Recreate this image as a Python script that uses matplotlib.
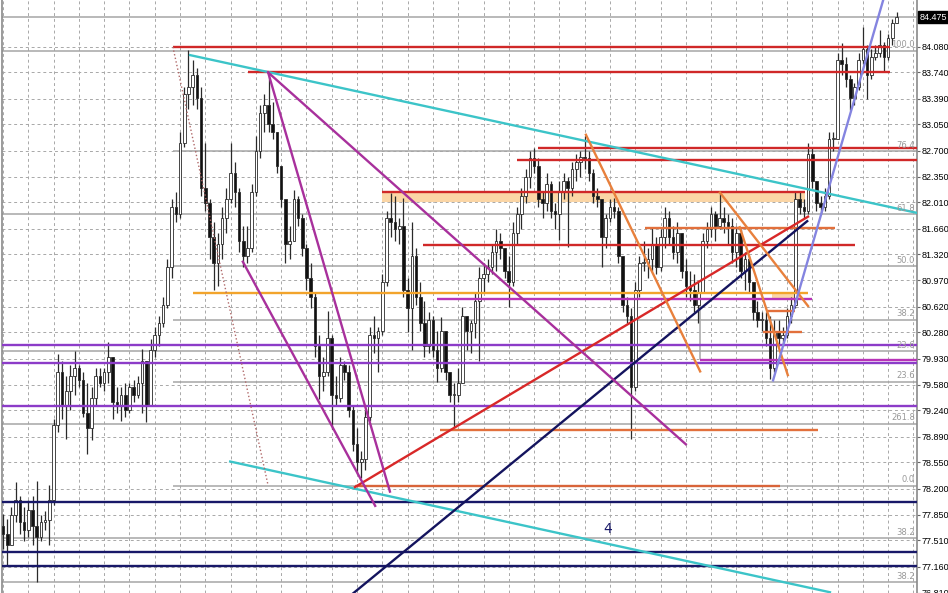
import numpy as np
import matplotlib
matplotlib.use("Agg")
from matplotlib import pyplot as plt
from matplotlib import transforms

# bar data (one bar per position, open = previous close)
highs = [
    77.86, 77.80, 77.95, 78.29, 78.10, 77.95, 78.05, 78.10, 78.30, 77.85,
    77.90, 78.25, 79.13, 79.99, 79.90, 79.70, 79.85, 80.03, 79.85, 79.75,
    79.60, 79.55, 79.80, 79.80, 79.80, 80.15, 79.95, 79.55, 79.55, 79.60,
    79.60, 79.65, 79.70, 80.06, 79.90, 80.19, 80.35, 80.50, 80.75, 81.25,
    82.05, 82.15, 82.95, 83.55, 84.04, 83.90, 83.80, 83.55, 82.80, 82.05,
    81.75, 81.60, 81.95, 82.20, 82.80, 82.55, 82.20, 81.70, 81.70, 82.25,
    82.90, 83.30, 83.45, 83.74, 83.35, 82.95, 82.50, 82.00, 81.70, 82.18,
    82.10, 81.85, 81.45, 81.20, 80.80, 80.25, 79.95, 80.56, 80.25, 79.70,
    79.95, 79.90, 79.85, 79.30, 79.00, 78.70, 79.25, 80.35, 80.50, 80.35,
    81.05, 81.90, 82.14, 82.10, 81.80, 82.07, 81.00, 81.75, 81.40, 80.95,
    80.70, 80.55, 80.50, 80.30, 80.48, 80.30, 79.75, 79.60, 79.80, 80.62,
    80.50, 80.45, 80.80, 81.15, 81.20, 81.25, 81.45, 81.65, 81.60, 81.40,
    81.30, 81.75, 81.95, 82.20, 82.45, 82.70, 82.74, 82.60, 82.15, 82.40,
    82.30, 82.00, 82.30, 82.40, 82.35, 82.55, 82.65, 82.70, 82.90, 82.70,
    82.45, 82.20, 82.05, 81.85, 82.05, 82.07, 81.95, 81.30, 80.75, 80.60,
    80.95, 81.30, 81.50, 81.40, 81.67, 81.55, 81.65, 81.95, 81.90, 81.70,
    81.75, 81.60, 81.25, 81.10, 81.05, 80.95, 81.60, 81.75, 81.95, 81.90,
    82.14, 81.95, 81.85, 81.80, 81.70, 81.65, 81.35, 81.30, 80.95, 80.70,
    80.55, 80.55, 80.50, 80.45, 80.45, 80.35, 80.60, 80.75, 82.15, 82.15,
    82.05, 82.80, 82.75, 82.30, 82.10, 82.20, 82.95, 82.95, 84.00, 84.13,
    83.95, 83.70, 83.60, 84.00, 84.35, 84.10, 84.05, 84.10, 84.30, 84.15,
    84.25, 84.45, 84.55]

lows = [
    77.40, 77.17, 77.45, 77.75, 77.60, 77.50, 77.55, 77.45, 76.96, 77.50,
    77.65, 77.45, 77.98, 78.95, 79.13, 78.86, 79.25, 79.45, 79.55, 79.15,
    78.66, 78.85, 79.30, 79.55, 79.50, 79.60, 79.13, 79.20, 79.10, 79.15,
    79.20, 79.35, 79.40, 79.20, 79.08, 79.30, 79.95, 80.10, 80.35, 80.60,
    81.00, 81.75, 81.80, 82.75, 83.25, 83.30, 83.25, 82.10, 81.90, 81.25,
    80.85, 80.90, 81.25, 81.60, 82.00, 81.95, 81.35, 81.15, 81.20, 81.35,
    82.10, 82.60, 82.95, 82.95, 82.85, 82.40, 81.95, 81.20, 81.25, 81.50,
    81.70, 81.30, 80.85, 80.60, 79.95, 79.39, 79.50, 79.70, 78.99, 79.30,
    79.35, 79.65, 79.15, 78.70, 78.40, 78.34, 78.45, 79.10, 80.00, 79.75,
    80.25, 80.90, 81.55, 81.50, 81.45, 80.75, 80.28, 80.05, 80.65, 80.30,
    79.95, 80.00, 79.95, 79.62, 79.75, 79.65, 79.35, 79.02, 79.35, 79.60,
    80.05, 80.00, 80.20, 79.90, 80.80, 80.95, 81.05, 81.10, 81.25, 81.00,
    80.62, 80.90, 81.45, 81.65, 82.00, 82.20, 82.40, 81.95, 81.80, 81.90,
    81.80, 81.65, 81.51, 82.05, 81.42, 82.10, 82.30, 82.35, 82.45, 82.30,
    82.00, 81.95, 81.15, 81.40, 81.75, 81.80, 81.20, 80.55, 80.40, 78.86,
    79.50, 80.75, 81.10, 81.00, 81.10, 81.05, 81.10, 81.40, 81.45, 81.25,
    81.20, 81.00, 80.75, 80.70, 80.55, 80.40, 80.80, 81.40, 81.55, 81.50,
    81.65, 81.60, 81.45, 81.20, 81.15, 81.00, 80.85, 80.80, 80.45, 80.35,
    80.30, 80.10, 79.66, 79.75, 80.10, 80.10, 80.20, 80.40, 80.60, 81.85,
    81.80, 81.85, 82.20, 81.90, 81.85, 81.90, 82.05, 82.70, 82.85, 83.70,
    83.55, 83.24, 83.30, 83.50, 83.85, 83.38, 83.65, 83.90, 83.95, 83.74,
    83.90, 84.10, 84.40]

closes = [
    77.60, 77.45, 77.85, 78.05, 77.75, 77.65, 77.92, 77.70, 77.55, 77.75,
    77.78, 78.05, 79.05, 79.75, 79.30, 79.50, 79.70, 79.80, 79.65, 79.20,
    79.00, 79.40, 79.70, 79.60, 79.75, 79.95, 79.35, 79.30, 79.45, 79.25,
    79.55, 79.45, 79.60, 79.90, 79.30, 80.05, 80.25, 80.40, 80.65, 81.15,
    81.95, 81.85, 82.80, 83.45, 83.55, 83.70, 83.40, 82.20, 82.00, 81.55,
    81.20, 81.45, 81.80, 82.05, 82.40, 82.15, 81.50, 81.30, 81.40, 82.15,
    82.70, 83.20, 83.30, 83.05, 82.95, 82.50, 82.05, 81.45, 81.50, 82.05,
    81.80, 81.40, 81.00, 80.75, 80.10, 79.70, 79.75, 80.20, 79.45, 79.40,
    79.85, 79.75, 79.25, 78.80, 78.55, 78.60, 79.15, 80.25, 80.20, 80.30,
    80.95, 81.80, 81.75, 81.65, 81.70, 80.85, 80.60, 81.30, 80.75, 80.40,
    80.10, 80.45, 80.05, 79.80, 80.30, 79.75, 79.45, 79.45, 79.60, 80.50,
    80.30, 80.40, 80.70, 81.00, 81.05, 81.15, 81.35, 81.50, 81.40, 81.10,
    80.95, 81.60, 81.85, 82.10, 82.35, 82.60, 82.50, 82.05, 82.00, 82.25,
    81.90, 81.85, 82.15, 82.30, 82.20, 82.45, 82.55, 82.62, 82.60, 82.40,
    82.10, 82.05, 81.55, 81.80, 81.95, 81.90, 81.30, 80.65, 80.50, 79.55,
    80.85, 81.20, 81.20, 81.25, 81.45, 81.15, 81.55, 81.80, 81.55, 81.35,
    81.60, 81.10, 80.90, 80.85, 80.65, 80.80, 81.50, 81.65, 81.85, 81.70,
    81.80, 81.75, 81.70, 81.35, 81.60, 81.10, 81.25, 80.95, 80.55, 80.45,
    80.45, 80.20, 79.80, 80.30, 80.20, 80.25, 80.50, 80.65, 82.05, 81.95,
    81.90, 82.65, 82.30, 82.00, 81.95, 82.10, 82.85, 82.85, 83.90, 83.85,
    83.65, 83.40, 83.55, 83.90, 84.05, 83.70, 83.95, 84.00, 84.10, 83.95,
    84.20, 84.40, 84.475]
first_open = 77.70

price_ticks = [84.080, 83.740, 83.390, 83.050, 82.700, 82.350, 82.010, 81.660,
               81.320, 80.970, 80.620, 80.280, 79.930, 79.580, 79.240, 78.890,
               78.550, 78.200, 77.850, 77.510, 77.160, 76.810]
last_price = 84.475

# horizontal levels: (price, start bar, end bar or None = to the edge, colour)
levels = [
    (84.08, 40.3, 210.4, "#d02828"),
    (83.74, 58.1, 210.4, "#d02828"),
    (82.74, 126.9, None, "#d02828"),
    (82.57, 121.9, None, "#d02828"),
    (82.15, 89.9, 190.3, "#d02828"),
    (81.44, 99.6, 202.1, "#d02828"),
    (80.81, 45.1, 191.0, "#f2a42c"),
    (81.67, 152.3, 197.4, "#e2703c"),
    (78.98, 103.7, 193.4, "#e2703c"),
    (78.24, 83.5, 184.3, "#d8643a"),
    (80.28, 180.3, 189.6, "#e2703c"),
    (80.56, 181.5, 187.9, "#e2703c"),
    (80.72, 103.0, 191.9, "#b833b8"),
    (79.91, 165.4, None, "#b833b8"),
    (80.11, None, None, "#8c3cc8"),
    (79.87, None, None, "#8c3cc8"),
    (79.30, None, None, "#8c3cc8"),
    (78.02, None, None, "#181868"),
    (77.36, None, None, "#181868"),
    (77.17, None, None, "#181868"),
]
# shaded zones: (low, high, start bar, end bar)
zones = [(82.01, 82.15, 89.9, 190.3), (80.72, 80.81, 182.4, 189.1)]

# fibonacci levels: (price, start bar or None, label)
fib_levels = [
    (84.475, None, ""), (84.03, None, "100.0"), (82.69, 40.3, "76.4"),
    (81.85, None, "61.8"), (81.16, 40.3, "50.0"), (80.45, 40.3, "38.2"),
    (80.03, None, "23.6"), (79.62, 40.3, "23.6"), (79.06, None, "261.8"),
    (78.24, 40.3, "0.0"), (77.54, None, "38.2"), (76.95, None, "38.2"),
]

# trend lines: (bar1, price1, bar2, price2, colour, style)
trends = [
    (44.4, 83.97, 216.85, 81.87, "#3cc4c8", "-"),
    (53.9, 78.56, 196.2, 76.82, "#3cc4c8", "-"),
    (83.5, 78.22, 191.0, 81.82, "#d82828", "-"),
    (82.3, 76.77, 190.8, 81.76, "#14145e", "-"),
    (62.9, 83.74, 162.0, 78.79, "#a8309c", "-"),
    (62.9, 83.74, 91.8, 78.16, "#a8309c", "-"),
    (56.9, 81.22, 88.3, 77.97, "#a8309c", "-"),
    (138.3, 82.91, 165.4, 79.76, "#e8803c", "-"),
    (170.1, 82.14, 191.0, 80.63, "#e8803c", "-"),
    (174.8, 81.68, 186.2, 79.71, "#e8803c", "-"),
    (182.7, 79.64, 210.0, 84.93, "#8484e0", "-"),
    (40.3, 84.08, 62.9, 78.24, "#b06868", ":"),
]

x_left, x_right = -0.24, 216.85
y_low, y_high = 76.828, 84.704

fig = plt.figure(figsize=(9.48, 5.93), dpi=100)
ax = fig.add_axes([2 / 948, 0, 915 / 948, 1])
ax.set_xlim(x_left, x_right)
ax.set_ylim(y_low, y_high)

# grid
for t in price_ticks:
    ax.axhline(t, color="#a8a8a8", lw=0.7, ls=(0, (3, 3)), zorder=0)
for gx in np.arange(0, 217, 6):
    ax.axvline(gx, color="#a8a8a8", lw=0.7, ls=(0, (3, 3)), zorder=0)

# fib levels
for p, x0, lab in fib_levels:
    ax.hlines(p, x_left if x0 is None else x0, x_right, color="#a6a6a6", lw=1.1, zorder=1)
    if lab:
        ax.text(x_right - 0.5, p + 0.02, lab, ha="right", va="bottom",
                fontsize=6, color="#999999", zorder=6)
ax.vlines(165.4, 79.92, 80.72, color="#a6a6a6", lw=1.1, zorder=1)

for lo, hi, x0, x1 in zones:
    ax.fill_between([x0, x1], lo, hi, color="#fbd6a6", lw=0, zorder=1)

# candles
opens = [first_open] + closes[:-1]
idx = np.arange(len(closes))
ax.vlines(idx, lows, highs, color="#2a2a2a", lw=0.9, zorder=3)
up = [c >= o for o, c in zip(opens, closes)]
bottoms = [min(o, c) for o, c in zip(opens, closes)]
heights = [max(abs(c - o), 0.012) for o, c in zip(opens, closes)]
ax.bar(idx, heights, bottom=bottoms, width=0.62,
       color=["white" if u else "#111111" for u in up],
       edgecolor="#2a2a2a", linewidth=0.6, zorder=3)

# drawn objects
for p, x0, x1, col in levels:
    ax.hlines(p, x_left if x0 is None else x0, x_right if x1 is None else x1,
              color=col, lw=1.7, zorder=4)
for x0, p0, x1, p1, col, st in trends:
    ax.plot([x0, x1], [p0, p1], color=col, lw=1.0 if st == ":" else 1.7, ls=st, zorder=4)

ax.text(143.5, 77.57, "4", color="#181868", fontsize=10, ha="center", va="bottom", zorder=5)

# price scale on the right
ax.yaxis.tick_right()
ax.set_yticks(price_ticks)
ax.set_yticklabels(["%.3f" % t for t in price_ticks], fontfamily="Liberation Sans")
ax.tick_params(axis="y", labelsize=6.5, length=2, width=0.8, color="#666666", pad=1.5)
ax.set_xticks([])
for s in ["top", "bottom"]:
    ax.spines[s].set_visible(False)
for s in ["left", "right"]:
    ax.spines[s].set_color("#8a8a8a")
    ax.spines[s].set_linewidth(1.2)

tr = transforms.blended_transform_factory(ax.transAxes, ax.transData)
ax.text(1.003, last_price, "%.3f" % last_price, transform=tr, ha="left", va="center",
        fontsize=6.5, fontfamily="Liberation Sans", color="white", zorder=10, clip_on=False,
        bbox=dict(boxstyle="square,pad=0.15", fc="black", ec="black"))

fig.savefig("out.png", dpi=100, facecolor="white")
